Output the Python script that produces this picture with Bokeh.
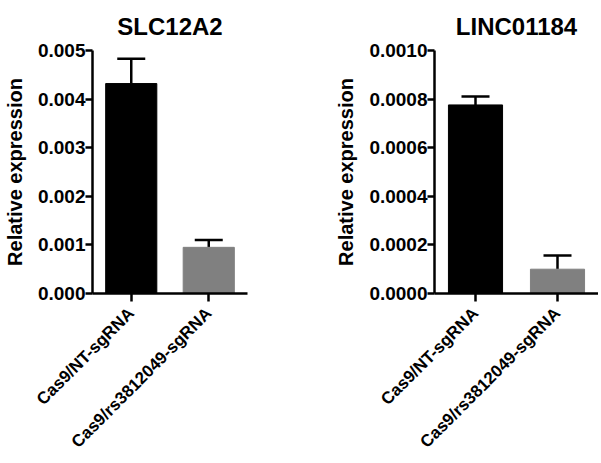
import math
from bokeh.plotting import figure
from bokeh.models import ColumnDataSource, Whisker, TeeHead, FixedTicker, FactorRange, Range1d
from bokeh.layouts import row
from bokeh.embed import file_html
from bokeh.resources import INLINE

# ---- data ----
categories = ["Cas9/NT-sgRNA", "Cas9/rs3812049-sgRNA"]
bar_colors = ["#000000", "#808080"]

title1 = "SLC12A2"
values1 = [0.00432, 0.00095]
errors1 = [0.00051, 0.00015]
yticks1 = [0.000, 0.001, 0.002, 0.003, 0.004, 0.005]
ylabels1 = ["0.000", "0.001", "0.002", "0.003", "0.004", "0.005"]
ymax1 = 0.005

title2 = "LINC01184"
values2 = [0.000776, 0.000100]
errors2 = [0.000035, 0.000056]
yticks2 = [0.0000, 0.0002, 0.0004, 0.0006, 0.0008, 0.0010]
ylabels2 = ["0.0000", "0.0002", "0.0004", "0.0006", "0.0008", "0.0010"]
ymax2 = 0.0010

ylabel = "Relative expression"
FONT = "Liberation Sans"
H = 461


def make_panel(title, values, errors, yticks, ylabels, ymax, width, bl, br):
    src = ColumnDataSource(dict(
        cat=categories,
        val=values,
        upper=[v + e for v, e in zip(values, errors)],
        color=bar_colors,
    ))
    p = figure(x_range=FactorRange(*categories, range_padding=0),
               y_range=Range1d(0, ymax),
               width=width, height=H,
               min_border_left=bl, min_border_right=br,
               min_border_top=0, min_border_bottom=150,
               output_backend="svg", toolbar_location=None,
               title=title)
    p.vbar(x="cat", top="val", width=0.66, source=src,
           fill_color="color", line_color="color", line_width=1)
    w = Whisker(base="cat", lower="val", upper="upper", source=src,
                line_width=2.5, line_color="black",
                upper_head=TeeHead(size=28, line_width=2.5, line_color="black"),
                lower_head=None)
    p.add_layout(w)

    p.title.align = "center"
    p.title.offset = 3
    p.title.text_font = FONT
    p.title.text_font_style = "bold"
    p.title.text_font_size = "24px"
    p.title.text_color = "black"
    p.title.standoff = 21

    p.xgrid.visible = False
    p.ygrid.visible = False
    p.outline_line_color = None

    ya = p.yaxis[0]
    ya.ticker = FixedTicker(ticks=yticks)
    ya.major_label_overrides = {t: l for t, l in zip(yticks, ylabels)}
    ya.minor_tick_line_color = None
    ya.major_tick_in = 0
    ya.major_tick_out = 7
    ya.major_tick_line_width = 2.5
    ya.axis_line_width = 2.5
    ya.major_label_standoff = 0
    ya.major_label_text_font = FONT
    ya.major_label_text_font_style = "bold"
    ya.major_label_text_font_size = "19px"
    ya.major_label_text_color = "black"
    ya.axis_label = ylabel
    ya.axis_label_text_font = FONT
    ya.axis_label_text_font_style = "bold"
    ya.axis_label_text_font_size = "20px"
    ya.axis_label_text_color = "black"
    ya.axis_label_standoff = 9

    xa = p.xaxis[0]
    xa.major_tick_in = 0
    xa.major_tick_out = 8
    xa.major_tick_line_width = 2.5
    xa.axis_line_width = 2.5
    xa.major_label_orientation = math.pi / 4
    xa.major_label_standoff = 9
    xa.major_label_text_font = FONT
    xa.major_label_text_font_style = "bold"
    xa.major_label_text_font_size = "17px"
    xa.major_label_text_color = "black"
    return p


p1 = make_panel(title1, values1, errors1, yticks1, ylabels1, ymax1, 300, 83, 53)
p2 = make_panel(title2, values2, errors2, yticks2, ylabels2, ymax2, 298, 134, 0)

layout = row(p1, p2)
open("out.html", "w").write(file_html(layout, INLINE))
